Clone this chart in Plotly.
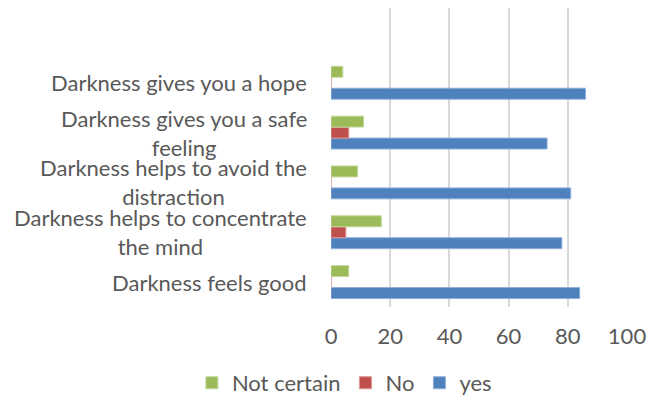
import plotly.graph_objects as go

categories = [
    "Darkness feels good",
    "Darkness helps to concentrate<br>the mind",
    "Darkness helps to avoid the<br>distraction",
    "Darkness gives you a safe<br>feeling",
    "Darkness gives you a hope",
]
yes_vals = [84, 78, 81, 73, 86]
no_vals = [0, 5, 0, 6, 0]
not_certain_vals = [6, 17, 9, 11, 4]
x_ticks = [0, 20, 40, 60, 80, 100]

FONT = "Lato"
GRAY = "#595959"
FS = 22
pos = list(range(len(categories)))

fig = go.Figure()
series = [
    ("yes", yes_vals, "#4f81bd", "#8fb0d9"),
    ("No", no_vals, "#c0504d", "#dc9391"),
    ("Not certain", not_certain_vals, "#9bbb59", "#c3d89c"),
]
for name, vals, col, edge in series:
    fig.add_trace(go.Bar(
        y=pos, x=vals, name=name, orientation="h",
        marker=dict(color=col, line=dict(color=edge, width=1)),
    ))

annotations = []
for i, cat in enumerate(categories):
    annotations.append(dict(
        x=0, xref="paper", y=i, yref="y", text=cat, showarrow=False,
        xanchor="right", yanchor="middle", align="center", xshift=-22,
        font=dict(family=FONT, size=FS, color=GRAY),
    ))

fig.update_layout(
    width=657, height=399,
    margin=dict(l=331, r=30, t=8, b=92, autoexpand=False),
    paper_bgcolor="white", plot_bgcolor="white",
    barmode="group", bargap=0.34, bargroupgap=0,
    font=dict(family=FONT, size=FS, color=GRAY),
    xaxis=dict(
        range=[0, 100], tickvals=x_ticks, showgrid=True,
        gridcolor="#d9d9d9", gridwidth=1.5, zeroline=False,
        showline=False, ticklabelstandoff=14,
        tickfont=dict(family=FONT, size=FS, color=GRAY),
    ),
    yaxis=dict(
        range=[-0.5, 5.5], tickvals=pos, showticklabels=False,
        showgrid=False, zeroline=False, showline=False,
    ),
    legend=dict(
        orientation="h", xref="paper", yref="paper",
        x=-0.47, xanchor="left", y=-0.254, yanchor="middle",
        traceorder="reversed", font=dict(family=FONT, size=FS, color=GRAY),
        itemwidth=30,
    ),
    annotations=annotations,
    showlegend=True,
)
fig.write_html("out.html")
